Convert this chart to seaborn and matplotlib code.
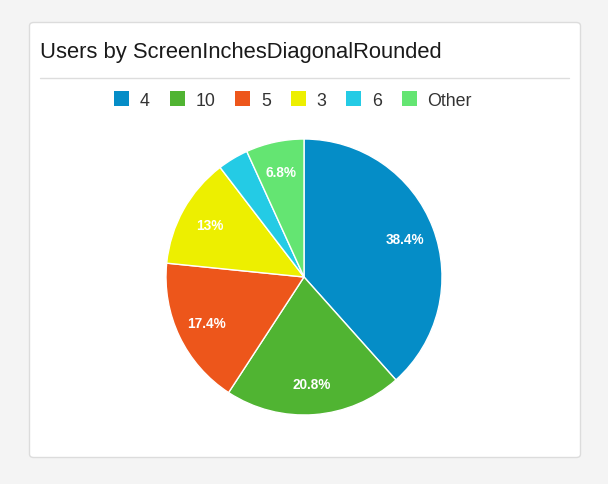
import matplotlib
matplotlib.use("Agg")
import matplotlib.pyplot as plt
from matplotlib.patches import FancyBboxPatch, Patch
from matplotlib.lines import Line2D
import seaborn as sns

# data
categories = ["4", "10", "5", "3", "6", "Other"]
shares = [38.4, 20.8, 17.4, 13.0, 3.6, 6.8]
colors_hex = ["#058DC7", "#50B432", "#ED561B", "#EDEF00", "#24CBE5", "#64E572"]
title_text = "Users by ScreenInchesDiagonalRounded"

sns.set_theme(style="white")
plt.rcParams["font.family"] = ["Liberation Sans", "DejaVu Sans"]
palette = sns.color_palette(colors_hex)

W, H = 608, 485
fig = plt.figure(figsize=(W / 100, H / 100), dpi=100)
fig.patch.set_facecolor("#f4f4f4")

def fx(px):
    return px / W

def fy(py):
    return 1 - py / H

# card
card = FancyBboxPatch((fx(29.5), fy(458.5)), fx(580.5) - fx(29.5), fy(23.5) - fy(458.5),
                      boxstyle="round,pad=0,rounding_size=0.007",
                      transform=fig.transFigure, facecolor="white",
                      edgecolor="#dcdcdc", linewidth=1, zorder=-10)
fig.patches.append(card)

# title and divider
fig.text(fx(40), fy(42), title_text, fontsize=15.85, color="#1a1a1a",
         ha="left", va="top")
fig.add_artist(Line2D([fx(40), fx(569)], [fy(78.5), fy(78.5)],
                      transform=fig.transFigure, color="#dddddd", linewidth=1))

# pie
cx, cy, r = 304, 278, 138
ax = fig.add_axes([fx(cx - r), fy(cy + r), 2 * r / W, 2 * r / H])
ax.set_zorder(5)

def fmt(p):
    return "" if p < 5 else f"{round(p, 1):g}%"

wedges, texts, autotexts = ax.pie(
    shares, colors=palette, startangle=90, counterclock=False,
    autopct=fmt, pctdistance=0.78,
    wedgeprops=dict(edgecolor="white", linewidth=1),
    textprops=dict(color="white", fontsize=9.8, fontweight="bold"),
)
ax.set_xlim(-1.0, 1.0)
ax.set_ylim(-1.0, 1.0)
ax.set_aspect("equal")
ax.axis("off")

# legend
handles = [Patch(facecolor=c, edgecolor="none") for c in palette]
fig.legend(handles, categories, loc="center", bbox_to_anchor=(fx(293), fy(101)),
           ncol=6, frameon=False, fontsize=12.8, handlelength=0.85,
           handleheight=0.85, handletextpad=0.6, columnspacing=1.12,
           labelcolor="#333333")

fig.savefig("out.png", dpi=100, facecolor=fig.get_facecolor())
